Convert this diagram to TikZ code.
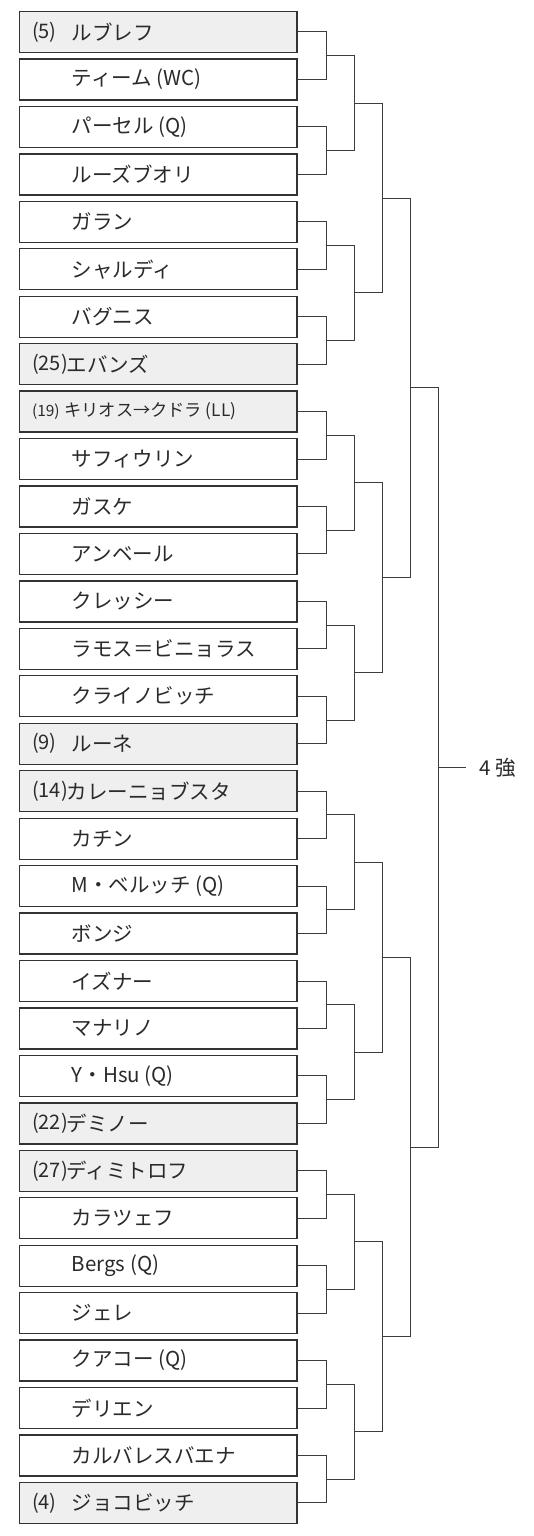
\documentclass[tikz,border=0pt]{standalone}
\usepackage{fontspec}
\setmainfont{Noto Sans CJK JP}
\usetikzlibrary{calc}
\definecolor{seedgray}{HTML}{EFEFEF}
\definecolor{boxline}{HTML}{333333}
\definecolor{wire}{HTML}{3C3C3C}
\definecolor{ink}{HTML}{2A2A2A}
\tikzset{
  player/.style={draw=boxline, line width=1.3pt, minimum width=277.5pt, minimum height=41pt, inner sep=0pt},
  seeded/.style={player, fill=seedgray},
  plain/.style={player, fill=white},
  lab/.style={anchor=west, inner sep=0pt, text=ink, font=\fontsize{20.5}{20.5}\selectfont},
  seedlab/.style={lab, font=\fontsize{20}{20}\selectfont},
  smalllab/.style={lab, font=\fontsize{17.2}{17.2}\selectfont},
  tinylab/.style={lab, font=\fontsize{15.5}{15.5}\selectfont},
  wireline/.style={draw=wire, line width=1pt},
}
\begin{document}
\begin{tikzpicture}[x=1pt,y=-1pt]
\useasboundingbox (0,0) rectangle (533,1536);
% boxes
\foreach \i in {1,...,32}{
  \pgfmathsetmacro\yy{32+47.45*(\i-1)}
  \ifnum\i=1 \def\st{seeded}\else
  \ifnum\i=8 \def\st{seeded}\else
  \ifnum\i=9 \def\st{seeded}\else
  \ifnum\i=16 \def\st{seeded}\else
  \ifnum\i=17 \def\st{seeded}\else
  \ifnum\i=24 \def\st{seeded}\else
  \ifnum\i=25 \def\st{seeded}\else
  \ifnum\i=32 \def\st{seeded}\else \def\st{plain}\fi\fi\fi\fi\fi\fi\fi\fi
  \node[\st] (p\i) at (158.25,\yy) {};
}
% labels
\node[seedlab] (s1) at ([xshift=13pt]p1.west) {(5)};
\node[lab] (t1) at ([xshift=52.75pt]p1.west) {ルブレフ};
\node[lab] (t2) at ([xshift=52.75pt]p2.west) {ティーム (WC)};
\node[lab] (t3) at ([xshift=52.75pt]p3.west) {パーセル (Q)};
\node[lab] (t4) at ([xshift=52.75pt]p4.west) {ルーズブオリ};
\node[lab] (t5) at ([xshift=52.75pt]p5.west) {ガラン};
\node[lab] (t6) at ([xshift=52.75pt]p6.west) {シャルディ};
\node[lab] (t7) at ([xshift=52.75pt]p7.west) {バグニス};
\node[seedlab] (s8) at ([xshift=13pt]p8.west) {(25)};
\node[lab] (t8) at ([xshift=47.75pt]p8.west) {エバンズ};
\node[tinylab] (s9) at ([xshift=13pt]p9.west) {(19)};
\node[smalllab] (t9) at ([xshift=45.5pt]p9.west) {キリオス→クドラ (LL)};
\node[lab] (t10) at ([xshift=52.75pt]p10.west) {サフィウリン};
\node[lab] (t11) at ([xshift=52.75pt]p11.west) {ガスケ};
\node[lab] (t12) at ([xshift=52.75pt]p12.west) {アンベール};
\node[lab] (t13) at ([xshift=52.75pt]p13.west) {クレッシー};
\node[lab] (t14) at ([xshift=52.75pt]p14.west) {ラモス＝ビニョラス};
\node[lab] (t15) at ([xshift=52.75pt]p15.west) {クライノビッチ};
\node[seedlab] (s16) at ([xshift=13pt]p16.west) {(9)};
\node[lab] (t16) at ([xshift=52.75pt]p16.west) {ルーネ};
\node[seedlab] (s17) at ([xshift=13pt]p17.west) {(14)};
\node[lab] (t17) at ([xshift=47.75pt]p17.west) {カレーニョブスタ};
\node[lab] (t18) at ([xshift=52.75pt]p18.west) {カチン};
\node[lab] (t19) at ([xshift=52.75pt]p19.west) {M・ベルッチ (Q)};
\node[lab] (t20) at ([xshift=52.75pt]p20.west) {ボンジ};
\node[lab] (t21) at ([xshift=52.75pt]p21.west) {イズナー};
\node[lab] (t22) at ([xshift=52.75pt]p22.west) {マナリノ};
\node[lab] (t23) at ([xshift=52.75pt]p23.west) {Y・Hsu (Q)};
\node[seedlab] (s24) at ([xshift=13pt]p24.west) {(22)};
\node[lab] (t24) at ([xshift=47.75pt]p24.west) {デミノー};
\node[seedlab] (s25) at ([xshift=13pt]p25.west) {(27)};
\node[lab] (t25) at ([xshift=47.75pt]p25.west) {ディミトロフ};
\node[lab] (t26) at ([xshift=52.75pt]p26.west) {カラツェフ};
\node[lab] (t27) at ([xshift=52.75pt]p27.west) {Bergs (Q)};
\node[lab] (t28) at ([xshift=52.75pt]p28.west) {ジェレ};
\node[lab] (t29) at ([xshift=52.75pt]p29.west) {クアコー (Q)};
\node[lab] (t30) at ([xshift=52.75pt]p30.west) {デリエン};
\node[lab] (t31) at ([xshift=52.75pt]p31.west) {カルバレスバエナ};
\node[seedlab] (s32) at ([xshift=13pt]p32.west) {(4)};
\node[lab] (t32) at ([xshift=52.75pt]p32.west) {ジョコビッチ};
% round 1
\foreach \j in {1,...,16}{
  \pgfmathtruncatemacro\a{2*\j-1}
  \pgfmathtruncatemacro\b{2*\j}
  \coordinate (r1-\j) at ($(p\a.east)!0.5!(p\b.east)+(29,0)$);
  \draw[wireline] (p\a.east) -| (r1-\j) |- (p\b.east);
}
% rounds 2-5
\foreach \r/\n/\d in {2/8/28,3/4/28,4/2/28,5/1/27.5}{
  \pgfmathtruncatemacro\q{\r-1}
  \foreach \j in {1,...,\n}{
    \pgfmathtruncatemacro\a{2*\j-1}
    \pgfmathtruncatemacro\b{2*\j}
    \coordinate (r\r-\j) at ($(r\q-\a)!0.5!(r\q-\b)+(\d,0)$);
    \draw[wireline] (r\q-\a) -| (r\r-\j) |- (r\q-\b);
  }
}
\coordinate (tip) at ($(r5-1)+(27.5,0)$);
\draw[wireline] (r5-1) -- (tip);
\node[lab] (last) at ($(tip)+(14,0)$) {4 強};
\end{tikzpicture}
\end{document}
